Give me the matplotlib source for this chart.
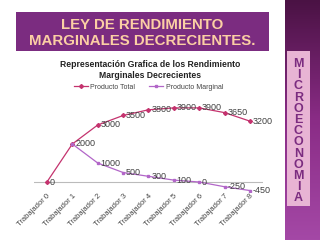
import numpy as np
import matplotlib
matplotlib.use("Agg")
import matplotlib.pyplot as plt
from matplotlib.patches import Rectangle

workers = [f"Trabajador {i}" for i in range(9)]
total = [0, 2000, 3000, 3500, 3800, 3900, 3900, 3650, 3200]
marginal = [np.nan, 2000, 1000, 500, 300, 100, 0, -250, -450]
side_letters = list("MICROECONOMIA")

TOTAL_COLOR = "#c4336e"
MARG_COLOR = "#b266c8"
PURPLE = "#7b2c80"

plt.rcParams["font.family"] = ["Liberation Sans", "DejaVu Sans"]

fig = plt.figure(figsize=(3.2, 2.4), dpi=100)
fig.patch.set_facecolor("white")

# slide decoration layer in pixel coordinates
deco = fig.add_axes([0, 0, 1, 1], zorder=0)
deco.set_xlim(0, 320)
deco.set_ylim(240, 0)
deco.axis("off")

grad = np.linspace(0, 1, 240).reshape(-1, 1)
cmap = matplotlib.colors.LinearSegmentedColormap.from_list("bar", ["#4a1244", "#8a2c86", "#a448a6"])
deco.imshow(grad, cmap=cmap, extent=(285, 320, 240, 0), aspect="auto", zorder=1)
deco.add_patch(Rectangle((287, 51), 23, 155, facecolor="#e8b4d4", edgecolor="none", zorder=2))
for i, ch in enumerate(side_letters):
    deco.text(298.5, 64 + i * 11.2, ch, ha="center", va="center", fontsize=9,
              fontweight="bold", color=PURPLE, zorder=3)

deco.add_patch(Rectangle((16, 12), 253, 39, facecolor=PURPLE, edgecolor="none", zorder=2))
deco.text(142, 25, "LEY DE RENDIMIENTO", ha="center", va="center", fontsize=10.8,
          fontweight="bold", color="#fbcfa4", zorder=3)
deco.text(142, 41, "MARGINALES DECRECIENTES.", ha="center", va="center", fontsize=10.8,
          fontweight="bold", color="#fbcfa4", zorder=3)

deco.text(150, 70, "Representación Grafica de los Rendimiento\nMarginales Decrecientes",
          ha="center", va="center", fontsize=6.2, fontweight="bold", color="#222222",
          linespacing=1.35, zorder=3)

# chart
ax = fig.add_axes([0.107, 0.202, 0.714, 0.396], zorder=2)
ax.patch.set_alpha(0)
x = np.arange(len(workers))
ax.plot(x, total, color=TOTAL_COLOR, lw=0.9, marker="D", ms=2, label="Producto Total")
ax.plot(x, marginal, color=MARG_COLOR, lw=0.9, marker="s", ms=2, label="Producto Marginal")

for xi, v in zip(x, total):
    ax.annotate(f"{v}", (xi, v), xytext=(2, 0), textcoords="offset points",
                ha="left", va="center", fontsize=6.5, color="#404040")
for xi, v in zip(x[2:], marginal[2:]):
    ax.annotate(f"{v:.0f}", (xi, v), xytext=(2, 0), textcoords="offset points",
                ha="left", va="center", fontsize=6.5, color="#404040")

ax.set_xlim(-0.5, 8.5)
ax.set_ylim(-500, 4500)
ax.axhline(0, color="#bbbbbb", lw=0.8, zorder=0)
for s in ax.spines.values():
    s.set_visible(False)
ax.set_yticks([])
ax.set_xticks(x)
ax.set_xticklabels(workers, rotation=45, ha="right", rotation_mode="anchor",
                   fontsize=5.5, color="#444444")
ax.tick_params(axis="x", length=0, pad=1)

ax.legend(loc="upper center", bbox_to_anchor=(0.5, 1.2), ncol=2, frameon=False,
          fontsize=5, handlelength=2, columnspacing=2, handletextpad=0.4,
          labelcolor="#444444")

fig.savefig("out.png", dpi=100)
